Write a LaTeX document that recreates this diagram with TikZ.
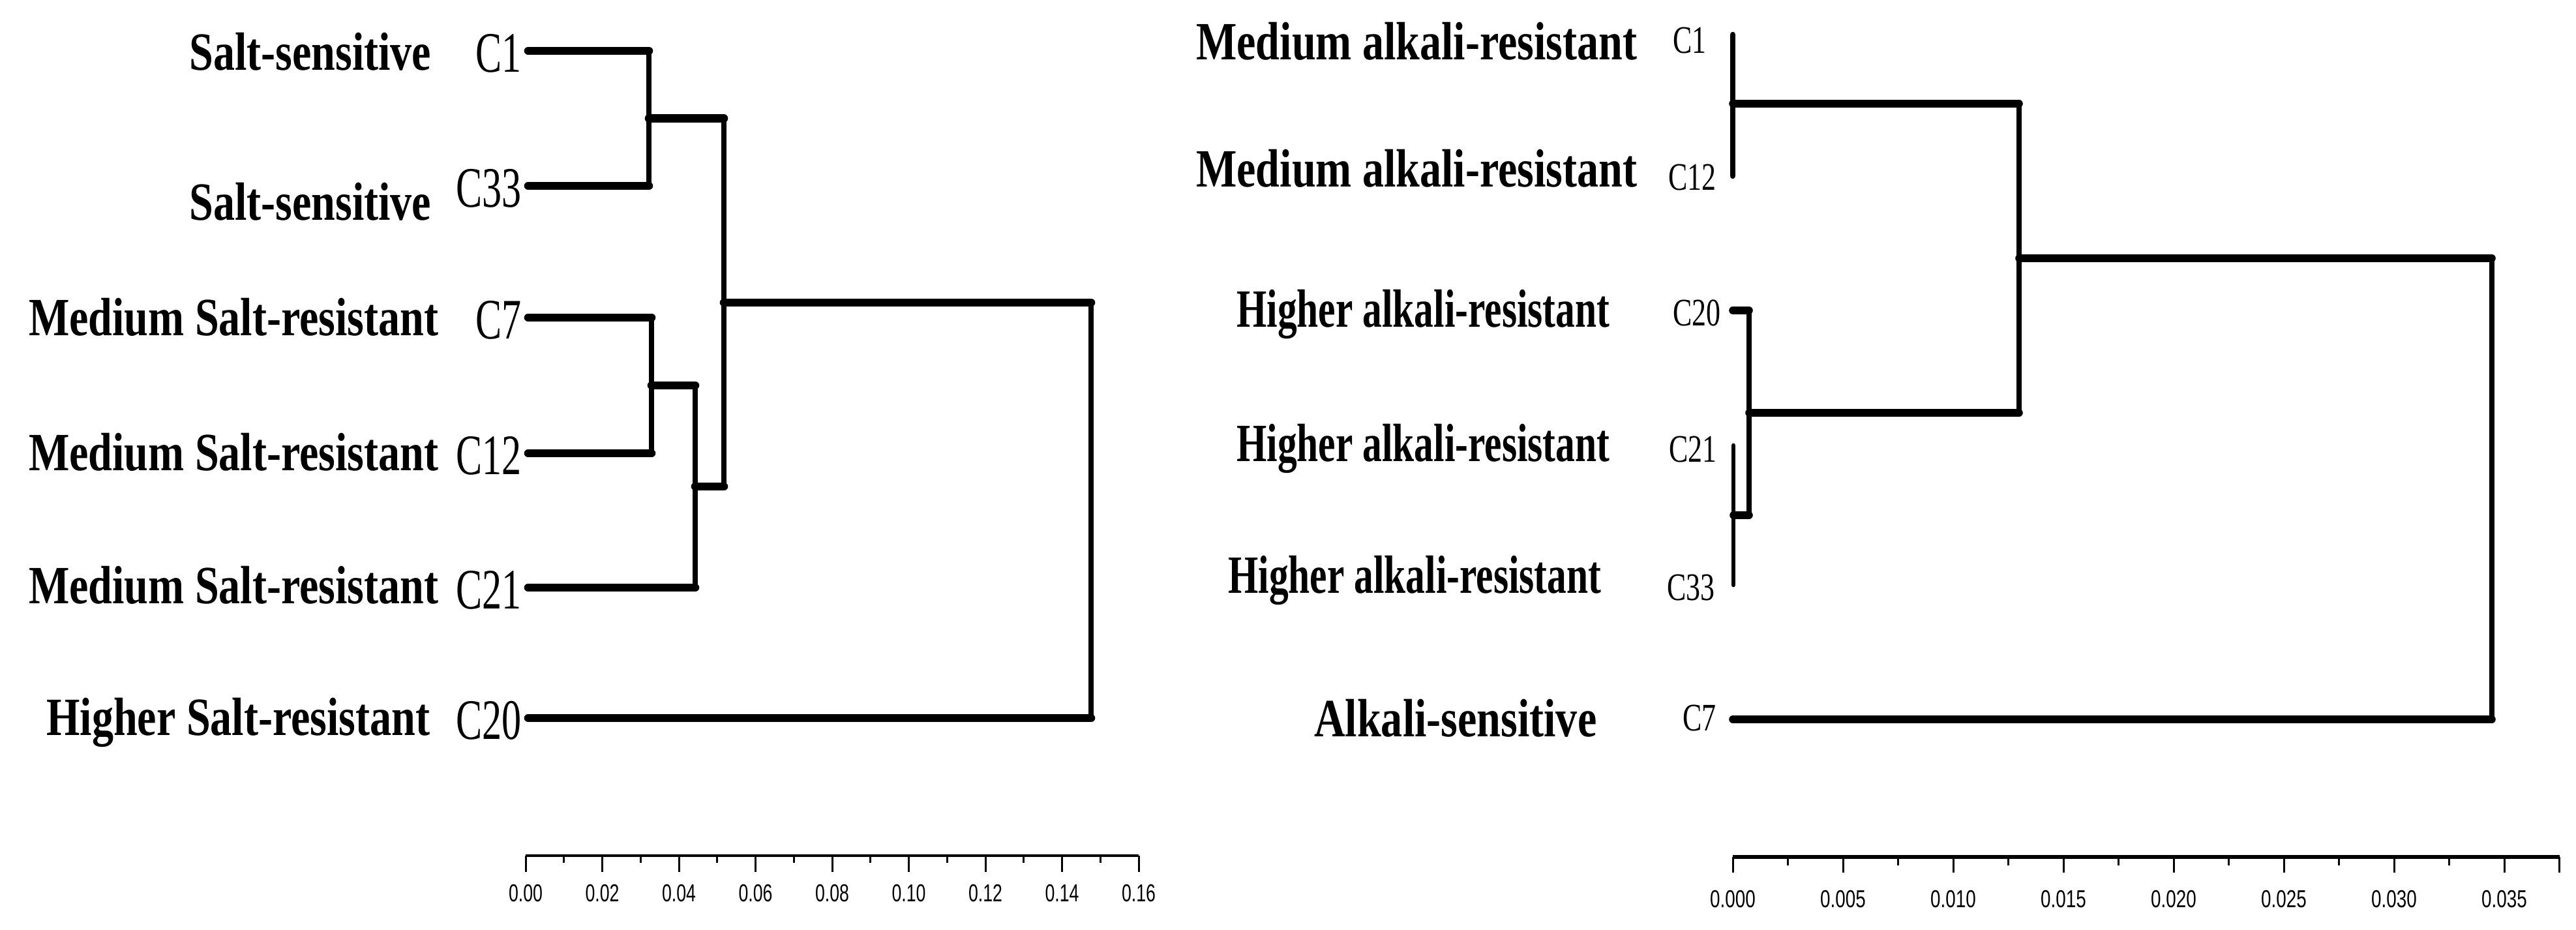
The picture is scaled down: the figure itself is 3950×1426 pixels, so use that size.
\documentclass[tikz,border=0pt]{standalone}
\usepackage{fontspec}
\setmainfont{Liberation Serif}
\newfontfamily\axfont{Liberation Sans}
\newcommand{\sy}[2]{\scalebox{1}[#1]{#2}}
\newcommand{\sxy}[3]{\scalebox{#1}[#2]{#3}}
\tikzset{
  cat/.style={font=\fontsize{18.8}{22}\selectfont\bfseries, inner sep=0pt, anchor=base east},
  lcl/.style={font=\fontsize{17.1}{20}\selectfont, inner sep=0pt, anchor=base east},
  rcl/.style={font=\fontsize{12.5}{15}\selectfont, inner sep=0pt, anchor=base east},
  axl/.style={font=\axfont\fontsize{10.7}{12}\selectfont, inner sep=0pt, anchor=base},
  lh/.style={line width=3.6pt, line cap=round},
  lv/.style={line width=2.1pt, line cap=round},
  rh/.style={line width=3.3pt, line cap=round},
  rv/.style={line width=2.4pt, line cap=round},
  rvt/.style={line width=1.9pt, line cap=round},
  axline/.style={line width=1.1pt},
  axlineR/.style={line width=1.7pt},
  tick/.style={line width=0.85pt},
}
\begin{document}
\begin{tikzpicture}[x=0.1mm, y=-0.1mm]
\useasboundingbox (0,0) rectangle (3950,1426);
% ---------------- left dendrogram ----------------
\node[cat] (ls1) at (662,108)  {\sy{1.25}{Salt-sensitive}};
\node[cat] (ls2) at (662,338)  {\sy{1.25}{Salt-sensitive}};
\node[cat] (lm1) at (673,515)  {\sy{1.25}{Medium Salt-resistant}};
\node[cat] (lm2) at (673,722)  {\sy{1.25}{Medium Salt-resistant}};
\node[cat] (lm3) at (673,926)  {\sy{1.25}{Medium Salt-resistant}};
\node[cat] (lh1) at (660,1128) {\sy{1.25}{Higher Salt-resistant}};
\node[lcl] (tC1)  at (800,111)  {\sy{1.46}{C1}};
\node[lcl] (tC33) at (800,318)  {\sy{1.46}{C33}};
\node[lcl] (tC7)  at (800,520)  {\sy{1.46}{C7}};
\node[lcl] (tC12) at (800,728)  {\sy{1.46}{C12}};
\node[lcl] (tC21) at (800,934)  {\sy{1.46}{C21}};
\node[lcl] (tC20) at (800,1134) {\sy{1.46}{C20}};
\coordinate (a1)  at (810,78);
\coordinate (a33) at (810,285);
\coordinate (a7)  at (810,487);
\coordinate (a12) at (810,695);
\coordinate (a21) at (810,901);
\coordinate (a20) at (810,1101);
\coordinate (ja) at (995,181.5);
\coordinate (jb) at (999,591);
\coordinate (jc) at (1066,746);
\coordinate (jd) at (1110,464);
\coordinate (je) at (1673,782);
\draw[lh] (a1) -- (a1 -| ja);
\draw[lh] (a33) -- (a33 -| ja);
\draw[lv] (a1 -| ja) -- (a33 -| ja);
\draw[lh] (a7) -- (a7 -| jb);
\draw[lh] (a12) -- (a12 -| jb);
\draw[lv] (a7 -| jb) -- (a12 -| jb);
\draw[lh] (jb) -- (jb -| jc);
\draw[lh] (a21) -- (a21 -| jc);
\draw[lv] (jb -| jc) -- (a21 -| jc);
\draw[lh] (ja) -- (ja -| jd);
\draw[lh] (jc) -- (jc -| jd);
\draw[lv] (ja -| jd) -- (jc -| jd);
\draw[lh] (jd) -- (jd -| je);
\draw[lh] (a20) -- (a20 -| je);
\draw[lv] (jd -| je) -- (a20 -| je);
% left axis
\coordinate (lx0) at (806,1312);
\coordinate (lx1) at (1746,1312);
\draw[axline] (lx0) -- (lx1);
\foreach \i in {0,2,...,16} \draw[tick] ({806+58.75*\i},1312) -- ++(0,25);
\foreach \i in {1,3,...,15} \draw[tick] ({806+58.75*\i},1312) -- ++(0,11);
\foreach \i/\t in {0/0.00,2/0.02,4/0.04,6/0.06,8/0.08,10/0.10,12/0.12,14/0.14,16/0.16}
  \node[axl] (lt\i) at ({806+58.75*\i},1383) {\scalebox{0.71}[1]{\t}};
% ---------------- right dendrogram ----------------
\node[cat] (rm1) at (2511,92)   {\sy{1.25}{Medium alkali-resistant}};
\node[cat] (rm2) at (2511,287)  {\sy{1.25}{Medium alkali-resistant}};
\node[cat] (rh1) at (2469,502)  {\sxy{0.9}{1.25}{Higher alkali-resistant}};
\node[cat] (rh2) at (2469,708)  {\sxy{0.9}{1.25}{Higher alkali-resistant}};
\node[cat] (rh3) at (2456,910)  {\sxy{0.9}{1.25}{Higher alkali-resistant}};
\node[cat] (ra1) at (2449,1130) {\sy{1.25}{Alkali-sensitive}};
\node[rcl] (sC1)  at (2617,82)   {\sy{1.36}{C1}};
\node[rcl] (sC12) at (2632,292)  {\sy{1.36}{C12}};
\node[rcl] (sC20) at (2639,500)  {\sy{1.36}{C20}};
\node[rcl] (sC21) at (2633,709)  {\sy{1.36}{C21}};
\node[rcl] (sC33) at (2630,921)  {\sy{1.36}{C33}};
\node[rcl] (sC7)  at (2632,1121) {\sy{1.36}{C7}};
\coordinate (b1)  at (2657,53);
\coordinate (b12) at (2657,270);
\coordinate (b20) at (2657,476);
\coordinate (b21) at (2658,683);
\coordinate (b33) at (2658,897);
\coordinate (b7)  at (2657,1103);
\coordinate (jA) at (2657,159);
\coordinate (jB) at (2658,790);
\coordinate (jC) at (2682,633);
\coordinate (jE) at (3096,396);
\coordinate (jF) at (3821,749.5);
\draw[rv] (b1) -- (b12);
\draw[rvt] (b21) -- (b33);
\draw[rh] (b20) -- (b20 -| jC);
\draw[rh] (jB) -- (jB -| jC);
\draw[rv] (b20 -| jC) -- (jB -| jC);
\draw[rh] (jA) -- (jA -| jE);
\draw[rh] (jC) -- (jC -| jE);
\draw[rv] (jA -| jE) -- (jC -| jE);
\draw[rh] (jE) -- (jE -| jF);
\draw[rh] (b7) -- (b7 -| jF);
\draw[rv] (jE -| jF) -- (b7 -| jF);
% right axis
\coordinate (rx0) at (2657,1314);
\coordinate (rx1) at (3925,1314);
\draw[axlineR] (rx0) -- (rx1);
\foreach \i in {0,2,...,14,15} \draw[tick] ({2657+84.5*\i},1314) -- ++(0,24);
\foreach \i in {1,3,...,13} \draw[tick] ({2657+84.5*\i},1314) -- ++(0,13);
\foreach \i/\t in {0/0.000,2/0.005,4/0.010,6/0.015,8/0.020,10/0.025,12/0.030,14/0.035}
  \node[axl] (rt\i) at ({2657+84.5*\i},1392) {\scalebox{0.74}[1]{\t}};
\end{tikzpicture}
\end{document}
